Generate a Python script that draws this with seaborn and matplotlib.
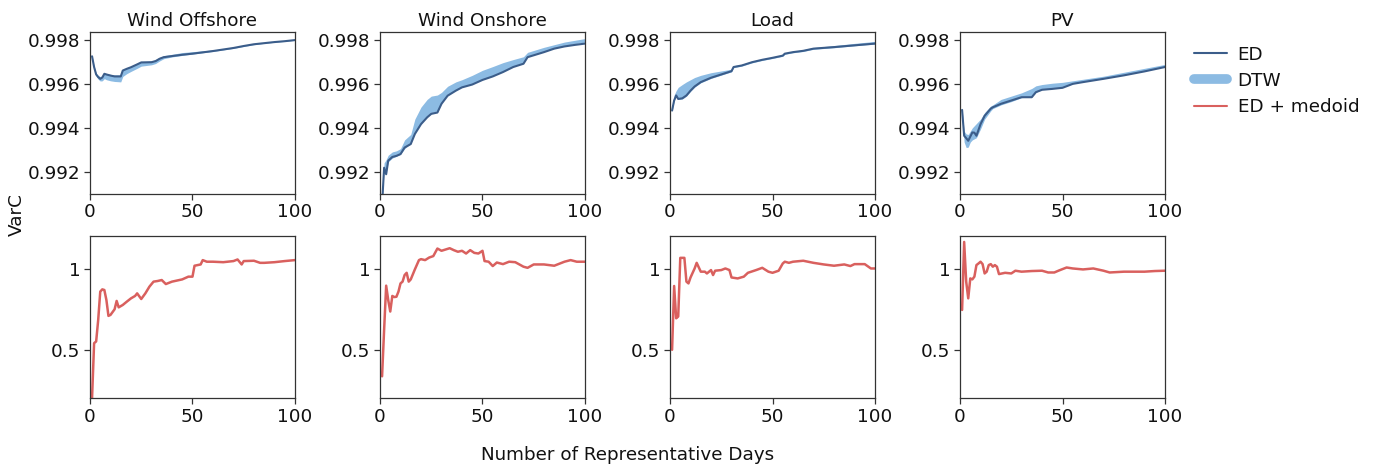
import matplotlib
matplotlib.use("Agg")
import matplotlib.pyplot as plt
from matplotlib.lines import Line2D
import seaborn as sns

# --- data ---
titles = ["Wind Offshore", "Wind Onshore", "Load", "PV"]

offshore_x = [1, 2, 3, 4, 5, 6, 7, 8, 10, 12, 15, 16, 18, 20, 23, 25, 30, 32, 34, 36,
              40, 45, 50, 55, 60, 65, 70, 75, 80, 85, 90, 95, 100]
offshore_ed = [0.99727, 0.99678, 0.99644, 0.99632, 0.99624, 0.99630, 0.99647, 0.99644, 0.99639,
               0.99635, 0.99635, 0.99662, 0.99670, 0.99677, 0.99690, 0.99699, 0.99700, 0.99705,
               0.99716, 0.99723, 0.99728, 0.99734, 0.99739, 0.99745, 0.99751, 0.99758, 0.99765,
               0.99774, 0.99782, 0.99787, 0.99792, 0.99796, 0.99801]
offshore_dtw_lo = [0.99722, 0.99670, 0.99636, 0.99622, 0.99614, 0.99615, 0.99625, 0.99620, 0.99615,
                   0.99612, 0.99610, 0.99635, 0.99648, 0.99658, 0.99672, 0.99682, 0.99688, 0.99694,
                   0.99706, 0.99716, 0.99724, 0.99731, 0.99737, 0.99743, 0.99749, 0.99756, 0.99763,
                   0.99772, 0.99780, 0.99786, 0.99791, 0.99795, 0.99800]
offshore_dtw_hi = [0.99730, 0.99682, 0.99650, 0.99640, 0.99634, 0.99638, 0.99650, 0.99648, 0.99644,
                   0.99642, 0.99642, 0.99665, 0.99674, 0.99680, 0.99693, 0.99702, 0.99705, 0.99712,
                   0.99722, 0.99730, 0.99736, 0.99744, 0.99748, 0.99752, 0.99756, 0.99762, 0.99768,
                   0.99777, 0.99784, 0.99789, 0.99794, 0.99798, 0.99803]

onshore_x = [1, 2, 3, 4, 6, 8, 10, 12, 15, 17, 20, 23, 25, 28, 30, 33, 37, 40, 45, 50,
             55, 60, 65, 70, 72, 80, 85, 90, 95, 100]
onshore_ed = [0.99050, 0.99218, 0.99188, 0.99250, 0.99267, 0.99272, 0.99280, 0.99310, 0.99326,
              0.99372, 0.99417, 0.99448, 0.99464, 0.99470, 0.99510, 0.99547, 0.99570, 0.99585,
              0.99598, 0.99619, 0.99635, 0.99655, 0.99678, 0.99693, 0.99723, 0.99746, 0.99762,
              0.99772, 0.99779, 0.99785]
onshore_dtw_lo = [0.99060, 0.99205, 0.99195, 0.99245, 0.99262, 0.99270, 0.99280, 0.99305, 0.99330,
                  0.99380, 0.99420, 0.99450, 0.99468, 0.99478, 0.99515, 0.99550, 0.99572, 0.99588,
                  0.99603, 0.99622, 0.99640, 0.99660, 0.99682, 0.99698, 0.99725, 0.99748, 0.99765,
                  0.99776, 0.99784, 0.99792]
onshore_dtw_hi = [0.99100, 0.99240, 0.99255, 0.99275, 0.99290, 0.99295, 0.99305, 0.99345, 0.99370,
                  0.99440, 0.99495, 0.99530, 0.99545, 0.99550, 0.99562, 0.99590, 0.99610, 0.99620,
                  0.99640, 0.99663, 0.99680, 0.99698, 0.99712, 0.99725, 0.99745, 0.99768, 0.99780,
                  0.99792, 0.99800, 0.99808]

load_x = [1, 2, 3, 4, 6, 8, 10, 12, 15, 20, 25, 30, 31, 35, 40, 45, 50, 55, 56, 60,
          65, 70, 80, 90, 100]
load_ed = [0.99479, 0.99525, 0.99548, 0.99532, 0.99535, 0.99548, 0.99570, 0.99589, 0.99609,
           0.99629, 0.99644, 0.99659, 0.99678, 0.99685, 0.99700, 0.99711, 0.99720, 0.99730,
           0.99739, 0.99746, 0.99752, 0.99762, 0.99769, 0.99777, 0.99785]
load_dtw_lo = [0.99476, 0.99522, 0.99545, 0.99530, 0.99532, 0.99545, 0.99567, 0.99586, 0.99606,
               0.99626, 0.99641, 0.99656, 0.99675, 0.99682, 0.99697, 0.99708, 0.99717, 0.99727,
               0.99736, 0.99743, 0.99749, 0.99759, 0.99766, 0.99775, 0.99783]
load_dtw_hi = [0.99485, 0.99550, 0.99570, 0.99585, 0.99598, 0.99610, 0.99620, 0.99630, 0.99640,
               0.99652, 0.99660, 0.99668, 0.99684, 0.99690, 0.99705, 0.99715, 0.99724, 0.99734,
               0.99742, 0.99750, 0.99757, 0.99767, 0.99776, 0.99786, 0.99795]

pv_x = [1, 2, 3, 4, 5, 6, 7, 8, 10, 12, 15, 16, 20, 25, 30, 35, 37, 40, 45, 50,
        55, 60, 70, 80, 90, 100]
pv_ed = [0.99482, 0.99364, 0.99353, 0.99341, 0.99360, 0.99379, 0.99378, 0.99364, 0.99417,
         0.99455, 0.99488, 0.99494, 0.99510, 0.99525, 0.99540, 0.99540, 0.99563, 0.99574,
         0.99578, 0.99583, 0.99601, 0.99609, 0.99624, 0.99640, 0.99658, 0.99678]
pv_dtw_lo = [0.99478, 0.99335, 0.99310, 0.99312, 0.99335, 0.99345, 0.99350, 0.99355, 0.99395,
             0.99440, 0.99478, 0.99488, 0.99505, 0.99520, 0.99538, 0.99542, 0.99562, 0.99575,
             0.99580, 0.99585, 0.99602, 0.99611, 0.99626, 0.99642, 0.99660, 0.99680]
pv_dtw_hi = [0.99486, 0.99385, 0.99372, 0.99370, 0.99385, 0.99400, 0.99410, 0.99420, 0.99440,
             0.99470, 0.99500, 0.99505, 0.99530, 0.99545, 0.99560, 0.99580, 0.99592, 0.99598,
             0.99604, 0.99608, 0.99615, 0.99622, 0.99636, 0.99654, 0.99672, 0.99690]

# ED + medoid (bottom row)
offshore_med_x = [1, 2, 3, 4, 5, 6, 7, 8, 9, 10, 12, 13, 14, 16, 18, 20, 22, 23, 25, 27,
                  29, 31, 33, 35, 37, 40, 45, 48, 50, 51, 54, 55, 57, 60, 65, 70, 72, 74,
                  75, 80, 83, 85, 90, 95, 100]
offshore_med = [0.20, 0.541, 0.552, 0.686, 0.862, 0.876, 0.872, 0.81, 0.711, 0.717, 0.752,
                0.804, 0.764, 0.779, 0.80, 0.82, 0.835, 0.851, 0.816, 0.851, 0.893, 0.924,
                0.928, 0.934, 0.909, 0.924, 0.938, 0.955, 0.955, 1.023, 1.031, 1.058, 1.048,
                1.048, 1.045, 1.052, 1.062, 1.031, 1.052, 1.054, 1.041, 1.041, 1.045, 1.052,
                1.058]

onshore_med_x = [1, 2, 3, 4, 5, 6, 7, 8, 9, 10, 11, 12, 13, 14, 15, 17, 19, 20, 22, 24,
                 26, 28, 30, 34, 36, 38, 40, 42, 44, 46, 48, 50, 51, 53, 55, 57, 60, 63,
                 66, 70, 72, 75, 80, 85, 90, 93, 96, 100]
onshore_med = [0.335, 0.624, 0.899, 0.81, 0.738, 0.835, 0.828, 0.83, 0.862, 0.913, 0.924,
               0.965, 0.979, 0.924, 0.938, 1.0, 1.058, 1.064, 1.058, 1.074, 1.083, 1.13,
               1.116, 1.132, 1.12, 1.11, 1.116, 1.099, 1.12, 1.103, 1.099, 1.116, 1.052,
               1.048, 1.021, 1.043, 1.033, 1.048, 1.045, 1.017, 1.01, 1.031, 1.031, 1.023,
               1.048, 1.058, 1.048, 1.048]

load_med_x = [1, 2, 3, 4, 5, 7, 8, 9, 10, 12, 13, 15, 17, 18, 20, 21, 22, 25, 27, 29,
              30, 33, 36, 38, 42, 45, 48, 50, 53, 55, 56, 58, 60, 65, 70, 75, 80, 85,
              88, 90, 95, 98, 100]
load_med = [0.5, 0.897, 0.696, 0.707, 1.072, 1.072, 0.924, 0.913, 0.95, 1.006, 1.041,
            0.986, 0.986, 0.975, 0.996, 0.965, 0.992, 0.996, 1.006, 0.996, 0.95, 0.944,
            0.955, 0.979, 0.996, 1.01, 0.986, 0.979, 0.992, 1.037, 1.048, 1.041, 1.048,
            1.054, 1.041, 1.031, 1.023, 1.031, 1.021, 1.033, 1.033, 1.006, 1.006]

pv_med_x = [1, 2, 3, 4, 5, 6, 7, 8, 9, 10, 11, 12, 13, 14, 15, 16, 17, 18, 19, 22,
            25, 27, 30, 35, 40, 43, 46, 48, 50, 52, 55, 60, 65, 70, 73, 80, 85, 90,
            95, 100]
pv_med = [0.748, 1.171, 0.924, 0.82, 0.944, 0.938, 0.955, 1.027, 1.037, 1.048, 1.033,
          0.975, 0.986, 1.027, 1.033, 1.017, 1.027, 1.017, 0.971, 0.979, 0.975, 0.992,
          0.986, 0.99, 0.992, 0.981, 0.981, 0.992, 1.002, 1.012, 1.006, 1.0, 1.006,
          0.992, 0.981, 0.986, 0.986, 0.986, 0.99, 0.992]

top_data = [
    (offshore_x, offshore_ed, offshore_dtw_lo, offshore_dtw_hi),
    (onshore_x, onshore_ed, onshore_dtw_lo, onshore_dtw_hi),
    (load_x, load_ed, load_dtw_lo, load_dtw_hi),
    (pv_x, pv_ed, pv_dtw_lo, pv_dtw_hi),
]
bottom_data = [
    (offshore_med_x, offshore_med),
    (onshore_med_x, onshore_med),
    (load_med_x, load_med),
    (pv_med_x, pv_med),
]

ed_color = "#3b5d8a"
dtw_color = "#8cbbe3"
med_color = "#d9605e"
text_color = "#111111"
fs = 13.2

sns.set_style("ticks")
plt.rcParams["font.family"] = ["DejaVu Sans"]
plt.rcParams["font.size"] = fs
plt.rcParams["text.color"] = text_color

fig, axes = plt.subplots(2, 4, figsize=(13.78, 4.66), dpi=100)
fig.subplots_adjust(left=90 / 1378, right=1165 / 1378, top=1 - 32 / 466,
                    bottom=1 - 398 / 466, wspace=0.415, hspace=0.266)

for i, (x, ed, lo, hi) in enumerate(top_data):
    ax = axes[0, i]
    ax.fill_between(x, lo, hi, color=dtw_color, lw=0, zorder=1)
    sns.lineplot(x=x, y=ed, ax=ax, color=ed_color, lw=1.5, zorder=2)
    ax.set_xlim(0, 100)
    ax.set_ylim(0.991, 0.99838)
    ax.set_yticks([0.992, 0.994, 0.996, 0.998])
    ax.set_yticklabels(["0.992", "0.994", "0.996", "0.998"])
    ax.set_title(titles[i], fontsize=fs, pad=4, color=text_color)

for i, (x, y) in enumerate(bottom_data):
    ax = axes[1, i]
    sns.lineplot(x=x, y=y, ax=ax, color=med_color, lw=1.8)
    ax.set_xlim(0, 100)
    ax.set_ylim(0.2, 1.205)
    ax.set_yticks([0.5, 1])
    ax.set_yticklabels(["0.5", "1"])

for ax in axes.flat:
    ax.set_xticks([0, 50, 100])
    ax.set_xlabel("")
    ax.set_ylabel("")
    ax.tick_params(labelsize=fs, length=4, width=0.9, color="#333333",
                   labelcolor=text_color, pad=3)
    for s in ax.spines.values():
        s.set_linewidth(0.9)
        s.set_color("#333333")

fig.text(628 / 1378, 1 - 455 / 466, "Number of Representative Days",
         ha="center", va="center", fontsize=fs)
fig.text(17 / 1378, 1 - 215 / 466, "VarC", rotation=90,
         ha="center", va="center", fontsize=fs)

handles = [
    Line2D([], [], color=ed_color, lw=1.5),
    Line2D([], [], color=dtw_color, lw=7),
    Line2D([], [], color=med_color, lw=1.5),
]
fig.legend(handles, ["ED", "DTW", "ED + medoid"], loc="upper left",
           bbox_to_anchor=(1177 / 1378, 1 - 29 / 466), frameon=False,
           fontsize=fs, handlelength=1.8, handletextpad=0.6, labelspacing=0.45)

fig.savefig("out.png", dpi=100)
